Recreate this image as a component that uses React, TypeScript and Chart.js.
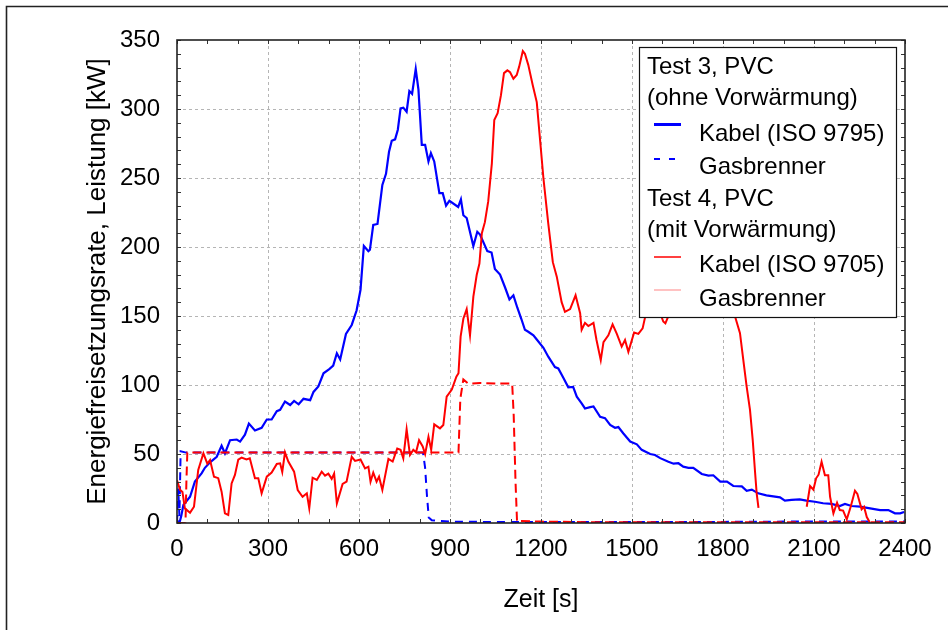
import React, { useEffect, useRef } from "react";
import { Chart, registerables } from "chart.js";

Chart.register(...registerables);

const FONT = "'Liberation Sans', Arial, Helvetica, sans-serif";
const FS = 24;

// ---- axis ranges / tick labels ----
const xMin = 0;
const xMax = 2400;
const xStep = 300;
const yMin = 0;
const yMax = 350;
const yStep = 50;

const xTitle = "Zeit [s]";
const yTitle = "Energiefreisetzungsrate, Leistung [kW]";

// ---- Test 3, Kabel (ISO 9795), blue solid ----
const blueKabelT = [0, 8, 14, 21, 43, 59, 81, 92, 109, 131, 147, 158, 175, 197, 208, 224, 237, 257, 279, 296, 312, 329, 340, 356, 373, 386, 401, 417, 439, 450, 466, 483, 502, 515, 527, 538, 557, 576, 592, 605, 616, 631, 636, 647, 661, 677, 689, 699, 708, 719, 728, 737, 746, 757, 766, 775, 787, 796, 807, 818, 829, 837, 848, 865, 876, 887, 898, 927, 936, 944, 955, 977, 990, 999, 1023, 1037, 1048, 1065, 1081, 1096, 1109, 1122, 1135, 1147, 1158, 1175, 1186, 1208, 1224, 1246, 1257, 1274, 1290, 1306, 1318, 1334, 1345, 1362, 1373, 1395, 1411, 1428, 1444, 1455, 1471, 1494, 1516, 1532, 1560, 1576, 1593, 1620, 1637, 1653, 1669, 1686, 1702, 1730, 1752, 1768, 1791, 1813, 1834, 1862, 1878, 1895, 1916, 1943, 1988, 2004, 2026, 2053, 2075, 2103, 2130, 2158, 2185, 2202, 2224, 2252, 2285, 2318, 2345, 2367, 2384, 2397];
const blueKabelV = [2, 0, 5, 13, 19, 30, 36, 40, 44, 48, 56, 50.5, 60, 60.5, 59, 64, 72, 67, 69, 75, 75, 81, 82, 88, 85.5, 88.5, 86, 90, 89, 95, 99, 108.5, 111.5, 114, 123, 118.5, 137, 143.5, 154, 169, 200.7, 197, 198, 216, 216.7, 245, 253, 269, 277, 278, 285, 300.5, 301, 298, 313, 311, 329, 314, 274, 274, 262, 268, 262, 239, 239, 230, 233.5, 229, 234.5, 223, 221, 200.7, 211, 209, 197, 196, 184, 180, 171, 162, 165, 156, 148, 140, 138.6, 136, 133, 127, 120.5, 113, 112, 105, 98.3, 98.6, 91.5, 86.7, 83, 84, 84.5, 77, 76, 71, 69, 69.5, 65, 59, 57, 53, 50, 49.3, 47, 44.4, 43, 43.3, 40.8, 40, 40, 35.5, 34.4, 34.6, 30, 30, 26.8, 26.5, 23.4, 24.2, 21.5, 20, 18.6, 16.2, 16.7, 17.1, 16.2, 15.4, 14.3, 13.8, 12.3, 13.8, 12.3, 11.8, 10.6, 9.4, 9.4, 7, 7, 8];

// ---- Test 3, Gasbrenner, blue dashed ----
const blueGasT = [0, 4, 8, 12, 30, 200, 400, 600, 811, 818, 824, 830, 840, 860, 900, 1000, 1200, 1400, 1600, 1800, 2000, 2200, 2400];
const blueGasV = [0, 25, 5, 52, 51, 51, 51, 51, 51, 40, 20, 4, 2, 1.5, 1, 0.8, 0.8, 0.8, 0.8, 0.8, 1, 1, 1];

// ---- Test 4, Kabel (ISO 9705), red solid ----
const redKabelT = [0, 10, 18, 26, 43, 56, 70, 87, 100, 109, 122, 136, 147, 158, 169, 180, 191, 202, 213, 229, 240, 257, 268, 279, 296, 312, 329, 340, 347, 356, 367, 386, 398, 414, 428, 436, 447, 461, 477, 488, 499, 510, 518, 527, 546, 559, 576, 587, 605, 620, 631, 638, 647, 658, 666, 677, 697, 711, 726, 737, 746, 757, 768, 779, 788, 798, 810, 818, 829, 838, 848, 867, 878, 889, 906, 921, 928, 935, 944, 955, 966, 977, 988, 997, 1005, 1015, 1026, 1038, 1046, 1057, 1068, 1078, 1089, 1098, 1109, 1120, 1128, 1140, 1147, 1158, 1173, 1186, 1197, 1208, 1224, 1239, 1252, 1268, 1279, 1296, 1314, 1329, 1334, 1345, 1356, 1373, 1383, 1397, 1406, 1422, 1436, 1450, 1466, 1477, 1488, 1507, 1521, 1535, 1546, 1560, 1580, 1603, 1610, 1620, 1642, 1660, 1700, 1750, 1800, 1830, 1840, 1856, 1867, 1878, 1889, 1898, 1906, 1911, 1917, 2000, 2076, 2087, 2098, 2107, 2115, 2125, 2136, 2147, 2153, 2164, 2176, 2185, 2196, 2208, 2221, 2235, 2243, 2257, 2265, 2274, 2285];
const redKabelV = [31, 24, 22.5, 10.6, 7.5, 11.8, 38.4, 50.5, 43, 45.6, 33.6, 32.5, 22.7, 7, 5.8, 28.7, 34.8, 46, 47.4, 46, 46.9, 32.4, 32.4, 21.5, 33.6, 36.5, 42.8, 43.2, 37, 51.2, 44.5, 37.2, 23.9, 19, 21.5, 10.6, 32.8, 31.2, 37.2, 34.3, 35.8, 32, 35.8, 14.2, 28.3, 30, 48, 45, 46, 39.6, 40.8, 30, 36.5, 30, 33.6, 24, 46.4, 44.5, 54, 53, 46.9, 67.9, 49.3, 53, 51.2, 60, 55.5, 50, 62.5, 53, 71.5, 68.6, 71, 91.5, 96.7, 106, 108.5, 135, 148, 155, 136, 164, 179.7, 188, 210, 218, 233, 260.6, 292, 297, 310, 326, 328, 326.6, 322, 324.7, 330.7, 342, 340, 332, 317, 305, 277.5, 249.8, 217, 189, 178.5, 160, 153, 155, 165, 152, 140, 145, 142.7, 145, 132.6, 118, 131, 136, 144, 137, 127.8, 132.6, 124, 138, 137, 141, 152, 158, 160, 146, 144.7, 150, 149.5, 155, 158, 160, 163, 160, 149.5, 137.5, 118, 98.8, 82, 60, 36, 21.5, 11, null, 11.8, 26.8, 24.2, 32.4, 35, 44.4, 34.6, 34.6, 19, 7, 14.7, 9.4, 9, 2.7, 11.8, 23.4, 21, 10, 11.8, 4.3, 0];

// ---- Test 4, Gasbrenner, red dashed ----
const redGasT = [0, 28, 31, 34, 100, 300, 500, 700, 928, 934, 944, 960, 1000, 1050, 1105, 1110, 1116, 1121, 1130, 1200, 1400, 1600, 1800, 2000, 2200, 2400];
const redGasV = [0, 0, 30, 51, 51, 51, 51, 51, 51, 90, 104, 101, 101.5, 101, 101, 78, 30, 1, 1.5, 1, 0.5, 0.5, 0.5, 0.5, 0.5, 0.5];

// ---- legend texts ----
const legendHeader3 = ["Test 3, PVC", "(ohne Vorwärmung)"];
const legendItems3 = ["Kabel (ISO 9795)", "Gasbrenner"];
const legendHeader4 = ["Test 4, PVC", "(mit Vorwärmung)"];
const legendItems4 = ["Kabel (ISO 9705)", "Gasbrenner"];

const toPoints = (t: number[], v: (number | null)[]) => t.map((x, i) => ({ x, y: v[i] }));

const BLUE = "#0000ff";
const RED = "#ff0000";

const decorPlugin = {
  id: "decor",
  afterDatasetsDraw(chart: any) {
    const { ctx, chartArea: a, scales } = chart;
    const xs = scales.x;
    const ys = scales.y;
    ctx.save();

    // minor / major ticks, inward
    ctx.beginPath();
    ctx.strokeStyle = "#333";
    ctx.lineWidth = 1;
    for (let v = yMin; v <= yMax; v += 10) {
      const py = Math.round(ys.getPixelForValue(v)) + 0.5;
      ctx.moveTo(a.left, py);
      ctx.lineTo(a.left + 4, py);
      ctx.moveTo(a.right, py);
      ctx.lineTo(a.right - 4, py);
    }
    for (let t = xMin; t <= xMax; t += 100) {
      const px = Math.round(xs.getPixelForValue(t)) + 0.5;
      ctx.moveTo(px, a.bottom);
      ctx.lineTo(px, a.bottom - 4);
      ctx.moveTo(px, a.top);
      ctx.lineTo(px, a.top + 4);
    }
    ctx.stroke();

    // plot frame
    ctx.strokeStyle = "#222";
    ctx.lineWidth = 1.6;
    ctx.strokeRect(a.left, a.top, a.right - a.left, a.bottom - a.top);

    // outer frame (cut off at right and bottom)
    ctx.beginPath();
    ctx.strokeStyle = "#222";
    ctx.lineWidth = 1.6;
    ctx.moveTo(6.5, chart.height + 2);
    ctx.lineTo(6.5, 6.5);
    ctx.lineTo(chart.width + 2, 6.5);
    ctx.stroke();

    // legend box
    const lx = 639, ly = 47, lw = 257, lh = 270;
    ctx.fillStyle = "#fff";
    ctx.fillRect(lx, ly, lw, lh);
    ctx.strokeStyle = "#111";
    ctx.lineWidth = 1.2;
    ctx.strokeRect(lx + 0.5, ly + 0.5, lw, lh);

    ctx.fillStyle = "#000";
    ctx.font = `${FS}px ${FONT}`;
    ctx.textBaseline = "alphabetic";
    ctx.textAlign = "left";
    const hx = 647, ix = 699;
    ctx.fillText(legendHeader3[0], hx, 74);
    ctx.fillText(legendHeader3[1], hx, 105);
    ctx.fillText(legendItems3[0], ix, 141);
    ctx.fillText(legendItems3[1], ix, 174);
    ctx.fillText(legendHeader4[0], hx, 206);
    ctx.fillText(legendHeader4[1], hx, 237);
    ctx.fillText(legendItems4[0], ix, 272);
    ctx.fillText(legendItems4[1], ix, 306);

    // legend samples
    ctx.beginPath();
    ctx.strokeStyle = BLUE;
    ctx.lineWidth = 3;
    ctx.moveTo(654, 124.5);
    ctx.lineTo(681, 124.5);
    ctx.stroke();

    ctx.beginPath();
    ctx.lineWidth = 2.2;
    ctx.moveTo(654, 159);
    ctx.lineTo(660, 159);
    ctx.moveTo(669, 159);
    ctx.lineTo(675, 159);
    ctx.stroke();

    ctx.beginPath();
    ctx.strokeStyle = RED;
    ctx.lineWidth = 1.5;
    ctx.moveTo(654, 257);
    ctx.lineTo(681, 257);
    ctx.stroke();

    ctx.beginPath();
    ctx.strokeStyle = "#ff9a9a";
    ctx.lineWidth = 1.2;
    ctx.moveTo(654, 290);
    ctx.lineTo(681, 290);
    ctx.stroke();

    ctx.restore();
  },
};

export default function App() {
  const ref = useRef<HTMLCanvasElement | null>(null);

  useEffect(() => {
    if (!ref.current) return;
    const gridColor = (c: any) => {
      const v = c.tick ? c.tick.value : null;
      return v === xMin || v === xMax || v === yMax ? "rgba(0,0,0,0)" : "#b5b5b5";
    };
    const chart = new Chart(ref.current, {
      type: "line",
      data: {
        datasets: [
          {
            label: "Test 4 Gasbrenner",
            data: toPoints(redGasT, redGasV),
            borderColor: RED,
            borderWidth: 2,
            borderDash: [9, 5],
            pointRadius: 0,
            tension: 0,
            fill: false,
          },
          {
            label: "Test 4 Kabel (ISO 9705)",
            data: toPoints(redKabelT, redKabelV),
            borderColor: RED,
            borderWidth: 2,
            pointRadius: 0,
            tension: 0,
            spanGaps: false,
            fill: false,
          },
          {
            label: "Test 3 Gasbrenner",
            data: toPoints(blueGasT, blueGasV),
            borderColor: BLUE,
            borderWidth: 2,
            borderDash: [8, 6],
            pointRadius: 0,
            tension: 0,
            fill: false,
          },
          {
            label: "Test 3 Kabel (ISO 9795)",
            data: toPoints(blueKabelT, blueKabelV),
            borderColor: BLUE,
            borderWidth: 2.2,
            pointRadius: 0,
            tension: 0,
            fill: false,
          },
        ],
      },
      options: {
        responsive: false,
        animation: false,
        layout: { padding: { left: 0, right: 43, top: 40, bottom: 0 } },
        plugins: {
          legend: { display: false },
          tooltip: { enabled: false },
        },
        scales: {
          x: {
            type: "linear",
            min: xMin,
            max: xMax,
            ticks: {
              stepSize: xStep,
              color: "#000",
              font: { family: FONT, size: FS },
              padding: 12,
              maxRotation: 0,
              callback: (v: any) => String(v),
            },
            grid: { color: gridColor, drawTicks: false, lineWidth: 1 },
            border: { display: false, dash: [3, 3] },
            title: {
              display: true,
              text: xTitle,
              color: "#000",
              font: { family: FONT, size: 25 },
              padding: { top: 0, bottom: 15 },
            },
            afterFit: (s: any) => {
              s.height = 107;
            },
          },
          y: {
            type: "linear",
            min: yMin,
            max: yMax,
            ticks: {
              stepSize: yStep,
              color: "#000",
              font: { family: FONT, size: FS },
              padding: 17,
              callback: (v: any) => String(v),
            },
            grid: { color: gridColor, drawTicks: false, lineWidth: 1 },
            border: { display: false, dash: [3, 3] },
            title: {
              display: true,
              text: yTitle,
              color: "#000",
              font: { family: FONT, size: 26 },
              padding: { top: 82, bottom: 0 },
            },
            afterFit: (s: any) => {
              s.width = 177;
            },
          },
        },
      },
      plugins: [decorPlugin],
    } as any);
    return () => chart.destroy();
  }, []);

  return (
    <div style={{ position: "absolute", left: 0, top: 0, width: 948, height: 630, background: "#fff" }}>
      <canvas ref={ref} width={948} height={630} style={{ display: "block", width: 948, height: 630 }} />
    </div>
  );
}
